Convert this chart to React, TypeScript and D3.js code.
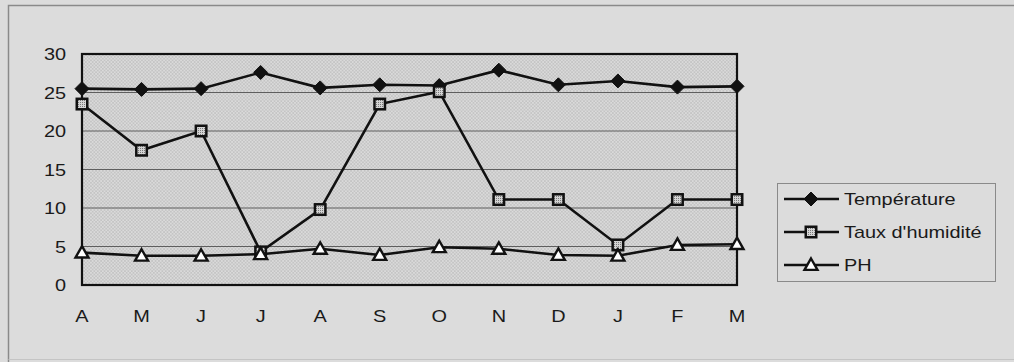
import React from "react";
import * as d3 from "d3";

const months = ["A", "M", "J", "J", "A", "S", "O", "N", "D", "J", "F", "M"];
const temperature = [25.5, 25.4, 25.5, 27.6, 25.6, 26.0, 25.9, 27.9, 26.0, 26.5, 25.7, 25.8];
const humidity = [23.5, 17.5, 20.0, 4.3, 9.8, 23.5, 25.1, 11.1, 11.1, 5.2, 11.1, 11.1];
const ph = [4.2, 3.8, 3.8, 4.0, 4.7, 3.9, 4.9, 4.7, 3.9, 3.8, 5.2, 5.3];
const yTicks = [0, 5, 10, 15, 20, 25, 30];
const seriesNames = ["Température", "Taux d'humidité", "PH"];

const W = 1014;
const H = 362;
const FONT = "'Liberation Sans', Arial, sans-serif";
const SX = 1.17;

function Marker({ kind, x, y }: { kind: number; x: number; y: number }) {
  if (kind === 0) {
    const s = 7;
    return (
      <path
        d={`M${x},${y - s}L${x + s},${y}L${x},${y + s}L${x - s},${y}Z`}
        fill="#111"
        stroke="#111"
        strokeWidth={1}
      />
    );
  }
  if (kind === 1) {
    const s = 6.5;
    return (
      <g>
        <rect x={x - s} y={y - s} width={2 * s} height={2 * s} fill="#111" />
        <rect x={x - s + 2.5} y={y - s + 2.5} width={2 * s - 5} height={2 * s - 5} fill="url(#mk)" />
      </g>
    );
  }
  const s = 6.5;
  return (
    <path
      d={`M${x},${y - s}L${x + s},${y + s * 0.75}L${x - s},${y + s * 0.75}Z`}
      fill="#fff"
      stroke="#111"
      strokeWidth={2.4}
      strokeLinejoin="miter"
    />
  );
}

function STxt({ x, y, anchor, children }: { x: number; y: number; anchor: string; children: React.ReactNode }) {
  return (
    <g transform={`translate(${x},${y}) scale(${SX},1)`}>
      <text x={0} y={0} textAnchor={anchor} fontFamily={FONT} fontSize={17} fill="#1a1a1a">
        {children}
      </text>
    </g>
  );
}

export default function App() {
  const left = 82;
  const right = 737;
  const top = 54;
  const bottom = 285;
  const x = d3.scaleLinear().domain([0, months.length - 1]).range([left, right]);
  const y = d3.scaleLinear().domain([0, 30]).range([bottom, top]);
  const line = d3
    .line<number>()
    .x((_, i) => x(i))
    .y((d) => y(d));
  const series = [temperature, humidity, ph];

  const legX = 777;
  const legY = 183;
  const legW = 218;
  const legH = 98;
  const legRows = [199, 232, 265];

  return (
    <svg
      width={W}
      height={H}
      style={{ position: "absolute", left: 0, top: 0, display: "block" }}
    >
      <defs>
        <pattern id="dots" width={3.4} height={3.4} patternUnits="userSpaceOnUse">
          <rect width={3.4} height={3.4} fill="#dadada" />
          <circle cx={0.85} cy={0.85} r={0.65} fill="#a4a4a4" />
          <circle cx={2.55} cy={2.55} r={0.65} fill="#a4a4a4" />
        </pattern>
        <pattern id="mk" width={2} height={2} patternUnits="userSpaceOnUse">
          <rect width={2} height={2} fill="#d4d4d4" />
          <rect width={1} height={1} fill="#7a7a7a" />
        </pattern>
      </defs>
      <rect x={0} y={0} width={W} height={H} fill="#dcdcdc" />
      <path d={`M8.5,${H}V5.5H${W}`} fill="none" stroke="#8a8a8a" strokeWidth={1.5} />
      <path d={`M8.5,359.5H${W}`} fill="none" stroke="#c4c4c4" strokeWidth={1} />

      {/* plot area */}
      <rect x={left} y={top} width={right - left} height={bottom - top} fill="url(#dots)" />
      {yTicks
        .filter((t) => t > 0 && t < 30)
        .map((t) => (
          <line key={t} x1={left} x2={right} y1={y(t)} y2={y(t)} stroke="#5e5e5e" strokeWidth={1} />
        ))}
      <rect
        x={left}
        y={top}
        width={right - left}
        height={bottom - top}
        fill="none"
        stroke="#111"
        strokeWidth={2.2}
      />

      {yTicks.map((t) => (
        <STxt key={t} x={66} y={y(t) + 6} anchor="end">
          {t}
        </STxt>
      ))}
      {months.map((m, i) => (
        <STxt key={i} x={x(i)} y={322} anchor="middle">
          {m}
        </STxt>
      ))}

      {series.map((s, k) => (
        <path key={k} d={line(s) || ""} fill="none" stroke="#111" strokeWidth={2.6} />
      ))}
      {series.map((s, k) =>
        s.map((v, i) => <Marker key={`${k}-${i}`} kind={k} x={x(i)} y={y(v)} />)
      )}

      {/* legend */}
      <rect x={legX + 0.5} y={legY + 0.5} width={legW} height={legH} fill="#dcdcdc" stroke="#8a8a8a" strokeWidth={1} />
      {seriesNames.map((n, k) => (
        <g key={n}>
          <line x1={784} x2={839} y1={legRows[k]} y2={legRows[k]} stroke="#111" strokeWidth={2.4} />
          <Marker kind={k} x={811} y={legRows[k]} />
          <STxt x={844} y={legRows[k] + 6} anchor="start">
            {n}
          </STxt>
        </g>
      ))}
    </svg>
  );
}
